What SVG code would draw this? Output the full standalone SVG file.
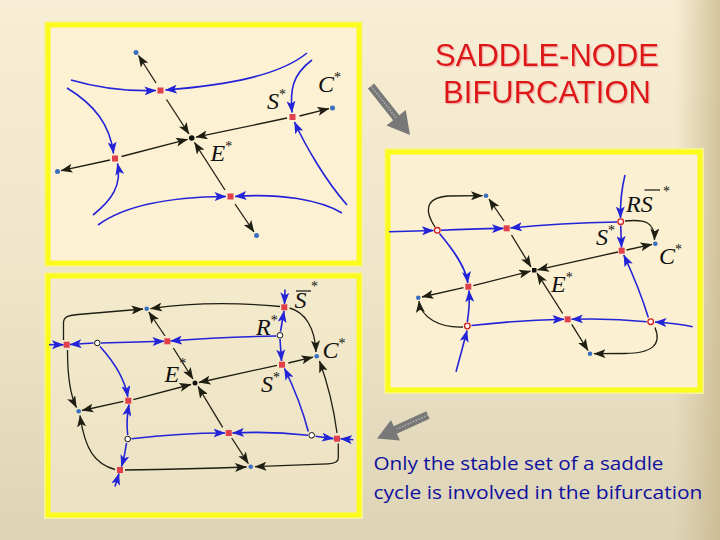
<svg xmlns="http://www.w3.org/2000/svg" width="720" height="540" viewBox="0 0 720 540">
<defs>
<linearGradient id="bg" x1="0" y1="0" x2="0" y2="1">
<stop offset="0" stop-color="#f8eed5"/>
<stop offset="0.5" stop-color="#efe5c9"/>
<stop offset="1" stop-color="#ddd3b7"/>
</linearGradient>
<linearGradient id="edgeR" x1="0" y1="0" x2="1" y2="0">
<stop offset="0" stop-color="#c8b68a" stop-opacity="0"/>
<stop offset="1" stop-color="#c8b68a" stop-opacity="0.75"/>
</linearGradient>
<linearGradient id="p3" x1="0" y1="0" x2="0" y2="1">
<stop offset="0" stop-color="#f4eacc"/>
<stop offset="1" stop-color="#ece2c3"/>
</linearGradient>
<marker id="ab" markerUnits="userSpaceOnUse" markerWidth="12" markerHeight="9" viewBox="0 0 12 9" refX="11.5" refY="4.5" orient="auto">
<path d="M0,0 L12,4.5 L0,9 L2.8,4.5 z" fill="#2323d8"/>
</marker>
<marker id="ak" markerUnits="userSpaceOnUse" markerWidth="12" markerHeight="9" viewBox="0 0 12 9" refX="11.5" refY="4.5" orient="auto">
<path d="M0,0 L12,4.5 L0,9 L2.8,4.5 z" fill="#1e1e12"/>
</marker>
<filter id="shadow" x="-10%" y="-20%" width="120%" height="150%">
<feDropShadow dx="1.2" dy="1.2" stdDeviation="0.6" flood-color="#f0a0a0" flood-opacity="0.8"/>
</filter>
<style>
.frame{stroke:#fbfb1c;stroke-width:5}
.frame2{fill:none;stroke:#f6f0a0;stroke-width:8}
.b{stroke:#2323d8;stroke-width:1.6;fill:none;marker-end:url(#ab)}
.k{stroke:#1e1e12;stroke-width:1.3;fill:none;marker-end:url(#ak)}
.sq{fill:#e0404c}
.dot{fill:#3a6fc0}
.oc{fill:#fff4ee;stroke:#d02020;stroke-width:1.3}
.ock{fill:#ffffff;stroke:#111;stroke-width:1}
.lbl{font-family:"Liberation Serif",serif;font-style:italic;font-size:24px;fill:#111}
.sup{font-size:14px;font-style:normal}
.title{font-family:"Liberation Sans",Arial,sans-serif;font-size:31px;fill:#dd1414;text-anchor:middle}
.note{font-family:"Open Sans","Noto Sans",sans-serif;font-size:19px;fill:#10109e}
.garrow{fill:#787878}
</style>
</defs>

<rect width="720" height="540" fill="url(#bg)"/>
<rect x="675" y="0" width="45" height="540" fill="url(#edgeR)"/>

<!-- Panel 1 -->
<g id="panel1">
<rect class="frame2" x="48" y="25" width="311" height="238"/>
<rect class="frame" x="48" y="25" width="311" height="238" fill="#fcf1d3"/>
</g>
<!-- Panel 2 -->
<g id="panel2">
<rect class="frame2" x="388" y="152" width="312" height="238"/>
<rect class="frame" x="388" y="152" width="312" height="238" fill="#fbf0d1"/>
</g>
<!-- Panel 3 -->
<g id="panel3">
<rect class="frame2" x="48" y="276" width="311" height="239"/>
<rect class="frame" x="48" y="276" width="311" height="239" fill="url(#p3)"/>
</g>

<!-- Connectors -->
<g id="connectors">
<!-- panel 1 blue -->
<path class="b" d="M71,80 Q112,92 156,90.5"/>
<path class="b" d="M307,53 C280,75 230,85 165.5,90"/>
<path class="b" d="M312,60 C292,75 290,90 292,112.5"/>
<path class="b" d="M347,205 C325,180 305,145 294.5,122"/>
<path class="b" d="M67,88 C95,105 110,125 113.5,153.5"/>
<path class="b" d="M93,215 C112,200 122,185 117.5,163.5"/>
<path class="b" d="M98,225 C125,205 170,197 226,196.5"/>
<path class="b" d="M342,213 C320,200 280,193 235,196.5"/>
<!-- panel 1 black -->
<path class="k" d="M156,83 L138.5,55.5"/>
<path class="k" d="M166.5,99.5 L189,134"/>
<path class="k" d="M287,118 L196,137.2"/>
<path class="k" d="M299.5,116 L329,108.7"/>
<path class="k" d="M121.5,156.5 L187.5,139.3"/>
<path class="k" d="M110,160 L61,170.7"/>
<path class="k" d="M225,190 L194.5,142.5"/>
<path class="k" d="M235,204 L254,232"/>

<!-- panel 2 blue -->
<path class="b" d="M389,231.7 L433.5,230.5"/>
<path class="b" d="M441,230.3 Q470,229 503.5,228.4"/>
<path class="b" d="M617,222 Q560,223 510.5,228"/>
<path class="b" d="M625,175 Q620,195 620.5,218"/>
<path class="b" d="M620.7,225.5 L621.5,247.5"/>
<path class="b" d="M439.5,233.5 C455,252 466,268 467.8,283"/>
<path class="b" d="M467.3,322 Q470,305 469,290.5"/>
<path class="b" d="M456,371.7 Q462,350 467,330.5"/>
<path class="b" d="M471.5,325.5 Q520,320 564,319.3"/>
<path class="b" d="M646.8,321.7 Q610,318 571.5,319.3"/>
<path class="b" d="M692.7,326.7 Q675,323 655,322"/>
<path class="b" d="M648.3,317.5 Q640,290 623.8,255"/>
<!-- panel 2 black -->
<path class="k" d="M435,227 C425,212 424,198 448,196 L482.5,195.7"/>
<path class="k" d="M504,221 L489,199"/>
<path class="k" d="M511.5,235 L531,267"/>
<path class="k" d="M618,252 L537.5,269.8"/>
<path class="k" d="M626.5,250 L652,244.3"/>
<path class="k" d="M625,221 C645,219 655,222 654.5,240"/>
<path class="k" d="M473.3,285.7 L530.5,271.2"/>
<path class="k" d="M463.5,287.7 L422,297"/>
<path class="k" d="M463,327 C440,328 421,318 419,301"/>
<path class="k" d="M562.7,313.5 L537,273.2"/>
<path class="k" d="M571.7,324.3 L588,350.5"/>
<path class="k" d="M655,327.5 C662,345 652,353 625,353.5 L594,353.7"/>

<!-- panel 3 blue -->
<path class="b" d="M49,344.7 L63.5,344.7"/>
<path class="b" d="M93.5,343 L70,344.5"/>
<path class="b" d="M101,343 L164,341.3"/>
<path class="b" d="M276.5,336 Q220,337 170.5,341"/>
<path class="b" d="M280.5,331.5 L284,311"/>
<path class="b" d="M285,289.5 L284.5,304"/>
<path class="b" d="M280,339 L281.5,361"/>
<path class="b" d="M100,346.5 C115,363 125,380 127.8,397"/>
<path class="b" d="M127.7,435 Q126,420 129,404.5"/>
<path class="b" d="M126.5,443 Q125,455 121.5,466.5"/>
<path class="b" d="M115,486.5 Q117,480 119,473.5"/>
<path class="b" d="M131.5,438.7 Q180,433 225,433"/>
<path class="b" d="M308,435.2 Q270,431 232.5,433"/>
<path class="b" d="M308.3,431.5 Q300,400 284.5,368.5"/>
<path class="b" d="M315.5,436.2 L333.5,438.6"/>
<path class="b" d="M353.3,439.7 L340.5,438.8"/>
<!-- panel 3 black -->
<path class="k" d="M63.5,340 L63.5,323 C63.5,317 67,315.5 78,314.5 L143,309"/>
<path class="k" d="M280,306.5 Q210,300 150.5,308.7"/>
<path class="k" d="M165,336 L148.8,312"/>
<path class="k" d="M173.3,348 L193,379"/>
<path class="k" d="M289.5,308 C305,312 315,328 316,352"/>
<path class="k" d="M288.3,363 L313,357.2"/>
<path class="k" d="M277,365.3 L199,382.5"/>
<path class="k" d="M133.3,399.7 L191,384.5"/>
<path class="k" d="M123.3,401.3 L82,410.5"/>
<path class="k" d="M67.5,350 C67.5,375 70,395 76.5,407.5"/>
<path class="k" d="M222.7,427.3 L198,386.5"/>
<path class="k" d="M231.7,438 L248.3,463.5"/>
<path class="k" d="M125,470 Q190,469 246.5,467"/>
<path class="k" d="M115,469.5 C95,464 85,450 80,415.5"/>
<path class="k" d="M338.3,443.5 L338.3,458 C338.3,462 335,463.5 328,463.8 L255,466.7"/>
<path class="k" d="M337,433 Q332,395 319.5,361"/>
</g>

<!-- Panel 1 nodes -->
<g id="p1-saddle-top"><rect class="sq" x="157.5" y="87.5" width="6" height="6"/></g>
<g id="p1-saddle-left"><rect class="sq" x="112" y="155.5" width="6" height="6"/></g>
<g id="p1-saddle-S"><rect class="sq" x="289.5" y="114" width="6" height="6"/></g>
<g id="p1-saddle-bottom"><rect class="sq" x="227.5" y="193.5" width="6" height="6"/></g>
<g id="p1-E"><circle cx="191.7" cy="138" r="2.8" fill="#111"/></g>
<g id="p1-dots">
<circle class="dot" cx="136" cy="52.5" r="2.5"/>
<circle class="dot" cx="57.5" cy="171.5" r="2.5"/>
<circle class="dot" cx="332.5" cy="108" r="2.5"/>
<circle class="dot" cx="256.5" cy="235.5" r="2.5"/>
</g>
<g id="p1-labels">
<text class="lbl" x="318" y="92">C<tspan class="sup" dy="-10">*</tspan></text>
<text class="lbl" x="267" y="109">S<tspan class="sup" dy="-10">*</tspan></text>
<text class="lbl" x="210.5" y="161">E<tspan class="sup" dy="-10">*</tspan></text>
</g>

<!-- Panel 2 nodes -->
<g id="p2-E"><rect x="532" y="268" width="4.5" height="4.5" fill="#111"/></g>
<g id="p2-saddles">
<rect class="sq" x="503.7" y="225.3" width="6" height="6"/>
<rect class="sq" x="618.7" y="247.7" width="6" height="6"/>
<rect class="sq" x="465.3" y="283.7" width="6" height="6"/>
<rect class="sq" x="564.7" y="316.3" width="6" height="6"/>
</g>
<g id="p2-cycles">
<circle class="oc" cx="437.3" cy="230.3" r="2.8"/>
<circle class="oc" cx="620.7" cy="221.7" r="2.8"/>
<circle class="oc" cx="467.3" cy="326" r="2.8"/>
<circle class="oc" cx="650.7" cy="321.7" r="2.8"/>
</g>
<g id="p2-dots">
<circle class="dot" cx="486" cy="195.7" r="2.3"/>
<circle class="dot" cx="655.3" cy="243.7" r="2.3"/>
<circle class="dot" cx="418.3" cy="297.7" r="2.3"/>
<circle class="dot" cx="590" cy="353.7" r="2.3"/>
</g>
<g id="p2-labels">
<text class="lbl" x="626" y="211.7">RS</text>
<line x1="644.5" y1="190" x2="660" y2="190" stroke="#111" stroke-width="1.2"/>
<text class="lbl" x="663" y="196"><tspan class="sup">*</tspan></text>
<text class="lbl" x="596" y="245">S<tspan class="sup" dy="-10">*</tspan></text>
<text class="lbl" x="659" y="263.5">C<tspan class="sup" dy="-10">*</tspan></text>
<text class="lbl" x="551" y="292">E<tspan class="sup" dy="-10">*</tspan></text>
</g>

<!-- Panel 3 nodes -->
<g id="p3-E"><circle cx="195" cy="383" r="2.5" fill="#111"/></g>
<g id="p3-saddles">
<rect class="sq" x="63.7" y="341.7" width="6" height="6"/>
<rect class="sq" x="164.3" y="338.3" width="6" height="6"/>
<rect class="sq" x="281.3" y="304.3" width="6" height="6"/>
<rect class="sq" x="279" y="361.7" width="6" height="6"/>
<rect class="sq" x="125.3" y="397.7" width="6" height="6"/>
<rect class="sq" x="225.7" y="430" width="6" height="6"/>
<rect class="sq" x="334" y="435.7" width="6" height="6"/>
<rect class="sq" x="117" y="467" width="6" height="6"/>
</g>
<g id="p3-cycles">
<circle class="ock" cx="97.3" cy="343" r="2.8"/>
<circle class="ock" cx="280" cy="335.3" r="2.8"/>
<circle class="ock" cx="127.7" cy="439" r="2.8"/>
<circle class="ock" cx="311.7" cy="435.3" r="2.8"/>
</g>
<g id="p3-dots">
<circle class="dot" cx="146.7" cy="308.7" r="2.3"/>
<circle class="dot" cx="316.7" cy="356.3" r="2.3"/>
<circle class="dot" cx="78.7" cy="411.3" r="2.3"/>
<circle class="dot" cx="250.7" cy="466.7" r="2.3"/>
</g>
<g id="p3-labels">
<text class="lbl" x="294.5" y="307.5">S</text>
<line x1="296" y1="291" x2="311" y2="291" stroke="#111" stroke-width="1.2"/>
<text class="lbl" x="311" y="291"><tspan class="sup">*</tspan></text>
<text class="lbl" x="256" y="335">R<tspan class="sup" dy="-10">*</tspan></text>
<text class="lbl" x="322.5" y="358">C<tspan class="sup" dy="-10">*</tspan></text>
<text class="lbl" x="164.5" y="381.5">E<tspan class="sup" dy="-14">*</tspan></text>
<text class="lbl" x="261" y="392">S<tspan class="sup" dy="-10">*</tspan></text>
</g>

<!-- Title -->
<g id="title" filter="url(#shadow)">
<text class="title" x="547" y="66">SADDLE-NODE</text>
<text class="title" x="547" y="103">BIFURCATION</text>
</g>

<!-- Gray arrows -->
<g id="arrow-top">
<line x1="371" y1="86" x2="398" y2="120" stroke="#787878" stroke-width="8"/>
<line x1="371" y1="86" x2="396" y2="117.5" stroke="#b0b0b0" stroke-width="1.5" stroke-dasharray="1.5,1.5"/>
<polygon class="garrow" points="410,135 386.5,125.5 405.8,110"/>
</g>
<g id="arrow-bottom">
<line x1="428" y1="415" x2="394" y2="430.5" stroke="#787878" stroke-width="8"/>
<line x1="428" y1="415" x2="397" y2="429" stroke="#b0b0b0" stroke-width="1.5" stroke-dasharray="1.5,1.5"/>
<polygon class="garrow" points="377,438.5 391,420 400,440.5"/>
</g>

<!-- Note -->
<g id="note">
<text class="note" x="373.5" y="470" textLength="290" lengthAdjust="spacingAndGlyphs">Only the stable set of a saddle</text>
<text class="note" x="373.5" y="499.3" textLength="329" lengthAdjust="spacingAndGlyphs">cycle is involved in the bifurcation</text>
</g>
</svg>
